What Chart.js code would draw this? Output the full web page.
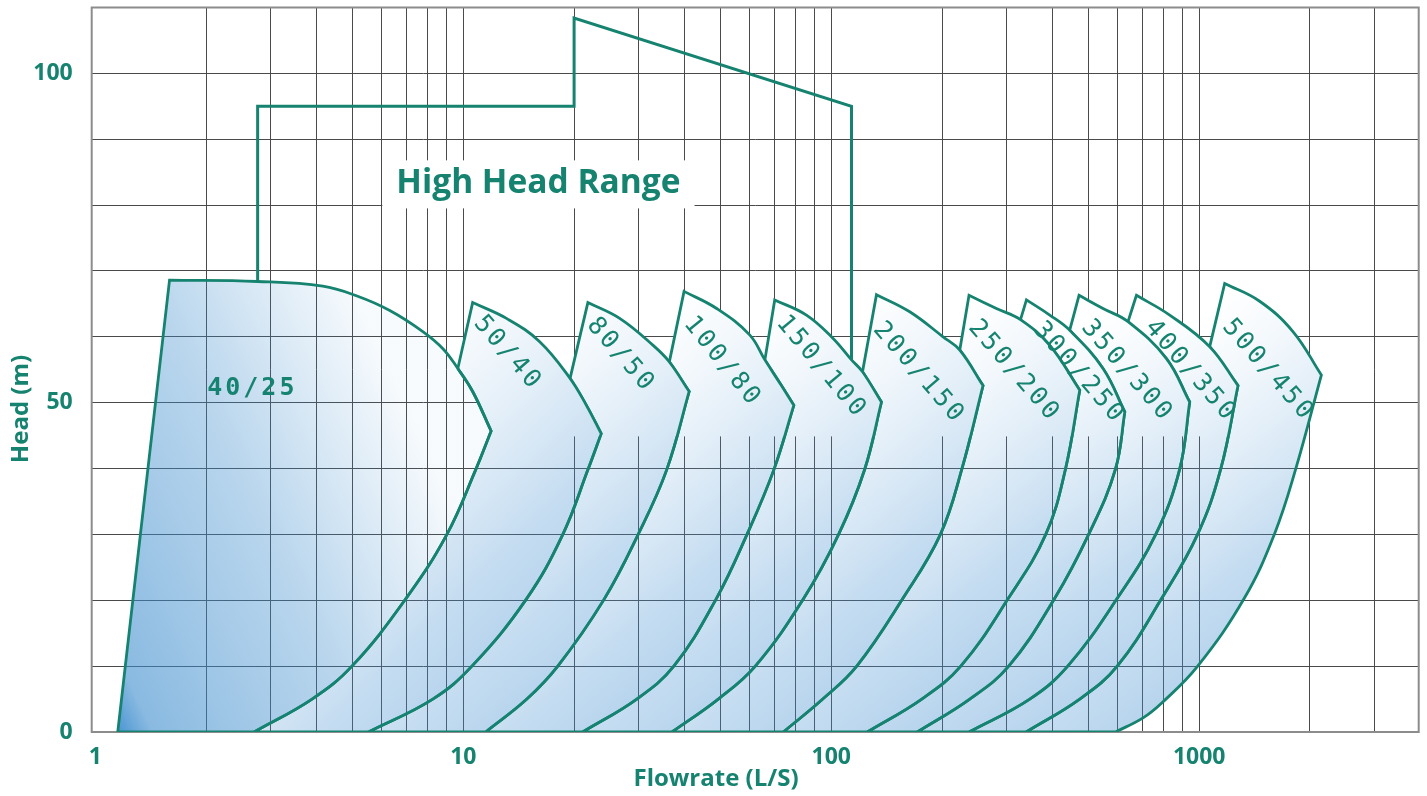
<!DOCTYPE html>
<html>
<head>
<meta charset="utf-8">
<script src="https://cdn.jsdelivr.net/npm/chart.js@4.4.1/dist/chart.umd.min.js"></script>
<style>
  html, body { margin: 0; padding: 0; background: #fff; }
  #wrap { width: 1427px; height: 796px; position: relative; }
</style>
</head>
<body>
<div id="wrap"><canvas id="pumpChart"></canvas></div>
<script>
// pump families, drawn left to right
const pumpNames = ['40/25', '50/40', '80/50', '100/80', '150/100', '200/150', '250/200', '300/250', '350/300', '400/350', '500/450'];

// top curve of each pump, from the peak to the tip  [flow L/S, head m]
const arcs = [
  [[1.59, 68.6], [2.76, 68.4], [4.15, 67.7], [5.14, 66.2], [6.31, 64.0], [7.76, 60.8], [8.8, 58.2], [9.66, 55.2], [10.6, 51.7], [11.9, 45.7]],
  [[10.6, 65.2], [13.1, 62.8], [16.1, 59.3], [19.5, 53.7], [21.6, 49.6], [23.7, 45.3]],
  [[21.8, 65.2], [26.6, 62.8], [32.8, 58.7], [36.3, 56.2], [41.1, 51.7]],
  [[39.8, 66.9], [48.8, 64.3], [60.0, 60.3], [66.0, 56.5], [73.2, 52.6], [79.1, 49.6]],
  [[70.2, 65.6], [85.6, 63.3], [101, 59.8], [113.5, 56.5], [121.6, 54.7], [136.9, 50.1]],
  [[132.7, 66.4], [163.4, 63.8], [201.3, 60.0], [223.5, 58.0], [258.5, 52.6]],
  [[236.8, 66.3], [281.1, 64.3], [326.8, 62.6], [392.5, 58.7], [473.5, 51.9]],
  [[339.2, 65.6], [392.5, 63.3], [444.7, 61.0], [547.7, 55.2], [627.7, 48.6]],
  [[471.4, 66.3], [547.7, 64.3], [640.6, 62.3], [814.6, 56.7], [942.3, 50.1]],
  [[675.1, 66.3], [831.5, 63.3], [1068, 58.5], [1275, 52.6]],
  [[1173, 68.1], [1460, 65.4], [1798, 60.8], [2148, 54.2]]
];

// lower curve of each pump, from below the tip down to zero head
const lowCurves = [
  [[10.8, 39.8], [9.0, 29.9], [6.95, 20.1], [4.98, 10], [3.88, 5], [2.7, 0]],
  [[21.8, 39.8], [18.6, 29.9], [14.8, 20.1], [10.55, 10], [8.26, 5], [5.52, 0]],
  [[35.7, 39.8], [29.8, 29.9], [24.1, 20.1], [18.06, 10], [14.88, 5], [11.5, 0]],
  [[69.8, 39.8], [58.9, 29.9], [48.55, 20.1], [37.33, 10], [29.61, 5], [21.1, 0]],
  [[123.3, 39.9], [104.7, 30.0], [84.2, 20.3], [62.17, 10], [49.31, 5], [36.9, 0]],
  [[226.4, 39.9], [198, 30.0], [156.6, 20.3], [117.3, 10], [94.82, 5], [74.1, 0]],
  [[433, 39.9], [382.8, 30.0], [302.9, 20.3], [224.9, 10], [176.2, 5], [125.3, 0]],
  [[592.1, 39.9], [500.6, 30.0], [404.9, 20.3], [303.6, 10], [237.9, 5], [171.3, 0]],
  [[885.1, 39.9], [761.8, 30.0], [598.8, 20.3], [439.2, 10], [346.3, 5], [236.8, 0]],
  [[1144, 39.9], [990, 30.0], [791, 20.3], [598.8, 10], [473.5, 5], [338.6, 0]],
  [[1829, 39.9], [1600, 30.0], [1326, 20.3], [990.6, 10], [791, 4.4], [702, 2.1], [592, 0]]
];

// where the left edge of each pump meets the top curve of the one before (index into that arc)
const joinIndex = [null, 7, 3, 3, 3, 4, 3, 2, 2, 2, 2];
const leftFoot = [1.15, 0];   // bottom left corner of 40/25

const highHead = [[2.76, 68.4], [2.76, 95], [20, 95], [20, 108.4], [113.5, 95], [113.5, 56.5]];

const labelPos = [[2.67, 52.2], [13.2, 57.5], [26.8, 57.2], [50.6, 56.2], [94, 55.4], [173, 54.5],
                  [314, 54.8], [471, 54.5], [637, 54.8], [947, 54.8], [1538, 54.9]];
const labelAngle = [0, 49, 49, 51, 50, 49, 49, 49, 49, 49, 49];
const highHeadText = 'High Head Range';
const highHeadPos = [16.0, 83.3];

const flowGrid = [1, 2, 3, 4, 5, 6, 7, 8, 9, 10, 20, 30, 40, 50, 60, 70, 80, 90, 100,
                  200, 300, 400, 500, 600, 700, 800, 900, 1000, 2000, 3000];
const flowLabels = [1, 10, 100, 1000];
const headLabels = [0, 50, 100];

const teal = '#15836f';
const gridColor = '#4a4a4a';

function outlineOf(i) {
  const out = [];
  const add = p => out.push({x: p[0], y: p[1]});
  const corner = p => { add(p); add(p); };
  const arc = arcs[i], low = lowCurves[i];
  if (i === 0) {
    corner(leftFoot);
  } else {
    corner(arcs[i - 1][joinIndex[i]]);
  }
  corner(arc[0]);
  arc.slice(1, -1).forEach(add);
  corner(arc[arc.length - 1]);
  low.slice(0, -1).forEach(add);
  corner(low[low.length - 1]);
  if (i === 0) {
    corner(leftFoot);
    return out;
  }
  // back along the previous pump: its lower curve, then its arc up to the join
  const pArc = arcs[i - 1], pLow = lowCurves[i - 1];
  corner(pLow[pLow.length - 1]);
  pLow.slice(0, -1).reverse().forEach(add);
  corner(pArc[pArc.length - 1]);
  pArc.slice(joinIndex[i] + 1, -1).reverse().forEach(add);
  corner(pArc[joinIndex[i]]);
  return out;
}

function fillFor(i) {
  return function (c) {
    const {ctx, chartArea, scales} = c.chart;
    if (!chartArea) return 'rgba(0,0,0,0)';
    const x = scales.x, y = scales.y;
    let g;
    if (i === 0) {
      const arc = arcs[0];
      // mostly left to right, a little upward
      g = ctx.createLinearGradient(x.getPixelForValue(leftFoot[0]), y.getPixelForValue(0),
        x.getPixelForValue(arc[arc.length - 1][0]) - 10, y.getPixelForValue(26));
      g.addColorStop(0, 'rgba(55,138,205,0.9)');
      g.addColorStop(0.08, 'rgba(60,140,205,0.6)');
      g.addColorStop(0.32, 'rgba(60,140,205,0.47)');
      g.addColorStop(0.55, 'rgba(60,140,205,0.36)');
      g.addColorStop(0.77, 'rgba(60,140,205,0.2)');
      g.addColorStop(1, 'rgba(60,140,205,0.04)');
    } else {
      const tip = arcs[i][arcs[i].length - 1];
      const prevFoot = lowCurves[i - 1][lowCurves[i - 1].length - 1];
      g = ctx.createLinearGradient(x.getPixelForValue(tip[0]), y.getPixelForValue(0),
        x.getPixelForValue(prevFoot[0]) + 40, y.getPixelForValue(48));
      g.addColorStop(0, 'rgba(55,138,205,0.52)');
      g.addColorStop(0.45, 'rgba(70,145,210,0.31)');
      g.addColorStop(0.8, 'rgba(110,170,220,0.1)');
      g.addColorStop(1, 'rgba(150,190,230,0)');
    }
    return g;
  };
}

// white under the upper part of each tongue so the grid does not show there
function coverFill(c) {
  const {ctx, chartArea, scales} = c.chart;
  if (!chartArea) return 'rgba(0,0,0,0)';
  const cut = (scales.y.getPixelForValue(45) - chartArea.top) / (chartArea.bottom - chartArea.top);
  const g = ctx.createLinearGradient(0, chartArea.top, 0, chartArea.bottom);
  g.addColorStop(0, '#ffffff');
  g.addColorStop(cut, '#ffffff');
  g.addColorStop(Math.min(1, cut + 0.002), 'rgba(255,255,255,0)');
  g.addColorStop(1, 'rgba(255,255,255,0)');
  return g;
}

const datasets = [{
  data: highHead.map(p => ({x: p[0], y: p[1]})),
  borderColor: teal, borderWidth: 3, fill: false, tension: 0, pointRadius: 0
}];
pumpNames.forEach((name, i) => {
  const outline = outlineOf(i);
  datasets.push({
    label: name, data: outline, borderColor: teal, borderWidth: 2.8,
    backgroundColor: fillFor(i), fill: 'shape', tension: 0.4, pointRadius: 0
  });
  if (i > 0) {
    datasets.push({
      data: outline, borderColor: 'rgba(0,0,0,0)', borderWidth: 1,
      backgroundColor: coverFill, fill: 'shape', tension: 0.4, pointRadius: 0
    });
  }
});

const framePlugin = {
  id: 'frame',
  beforeDatasetsDraw(chart) {
    const {ctx, chartArea: a} = chart;
    ctx.save();
    ctx.strokeStyle = '#8c8c8c';
    ctx.lineWidth = 2;
    ctx.strokeRect(a.left, a.top, a.right - a.left, a.bottom - a.top);
    ctx.restore();
  }
};

const textPlugin = {
  id: 'texts',
  afterDatasetsDraw(chart) {
    const {ctx, scales: {x, y}} = chart;
    ctx.save();
    ctx.fillStyle = teal;
    ctx.textAlign = 'center';
    ctx.textBaseline = 'middle';
    pumpNames.forEach((name, i) => {
      ctx.save();
      ctx.translate(x.getPixelForValue(labelPos[i][0]), y.getPixelForValue(labelPos[i][1]));
      ctx.rotate(labelAngle[i] * Math.PI / 180);
      ctx.font = (i === 0 ? 'bold ' : '') + '25px "DejaVu Sans Mono"';
      ctx.letterSpacing = '3px';
      ctx.fillText(name, 0, 0);
      ctx.restore();
    });

    // High Head Range with its white box
    const hx = x.getPixelForValue(highHeadPos[0]), hy = y.getPixelForValue(highHeadPos[1]);
    ctx.font = 'bold 33.5px "Open Sans"';
    const w = ctx.measureText(highHeadText).width;
    ctx.fillStyle = '#fff';
    ctx.fillRect(hx - w / 2 - 14, hy - 23, w + 28, 48);
    ctx.fillStyle = teal;
    ctx.fillText(highHeadText, hx, hy);
    ctx.restore();
  },
  afterDraw(chart) {
    const ctx = chart.ctx;
    ctx.save();
    ctx.fillStyle = teal;
    ctx.textAlign = 'center';
    ctx.textBaseline = 'middle';
    ctx.font = 'bold 24px "Open Sans"';
    ctx.fillText('Flowrate (L/S)', 716, 779);
    ctx.translate(21, 409);
    ctx.rotate(-Math.PI / 2);
    ctx.fillText('Head (m)', 0, 0);
    ctx.restore();
  }
};

new Chart(document.getElementById('pumpChart'), {
  type: 'line',
  data: {datasets: datasets},
  options: {
    responsive: true,
    maintainAspectRatio: false,
    animation: false,
    layout: {padding: {left: 0, top: 7.5, right: 8.3, bottom: 0}},
    plugins: {
      legend: {display: false},
      tooltip: {enabled: false}
    },
    scales: {
      x: {
        type: 'logarithmic',
        min: 0.977,
        max: 3950,
        afterBuildTicks: scale => { scale.ticks = flowGrid.map(v => ({value: v})); },
        afterFit: scale => {
          scale.height = 64;
          scale.paddingLeft = 0;
          scale.paddingRight = 0;
        },
        border: {display: false},
        grid: {
          drawTicks: false,
          lineWidth: 1,
          color: c => (c.tick && c.tick.value === 1) ? 'rgba(0,0,0,0)' : gridColor
        },
        ticks: {
          autoSkip: false,
          maxRotation: 0,
          padding: 12,
          color: teal,
          font: {family: '"Open Sans"', weight: 'bold', size: 23},
          callback: v => flowLabels.includes(v) ? String(v) : ''
        }
      },
      y: {
        min: 0,
        max: 110,
        afterFit: scale => {
          scale.width = 91.7;
          scale.paddingTop = 0;
          scale.paddingBottom = 0;
        },
        border: {display: false},
        grid: {drawTicks: false, lineWidth: 1, color: gridColor},
        ticks: {
          stepSize: 10,
          padding: 19,
          color: teal,
          font: {family: '"Open Sans"', weight: 'bold', size: 23},
          callback: v => headLabels.includes(v) ? String(v) : ''
        }
      }
    }
  },
  plugins: [framePlugin, textPlugin]
});
</script>
</body>
</html>
